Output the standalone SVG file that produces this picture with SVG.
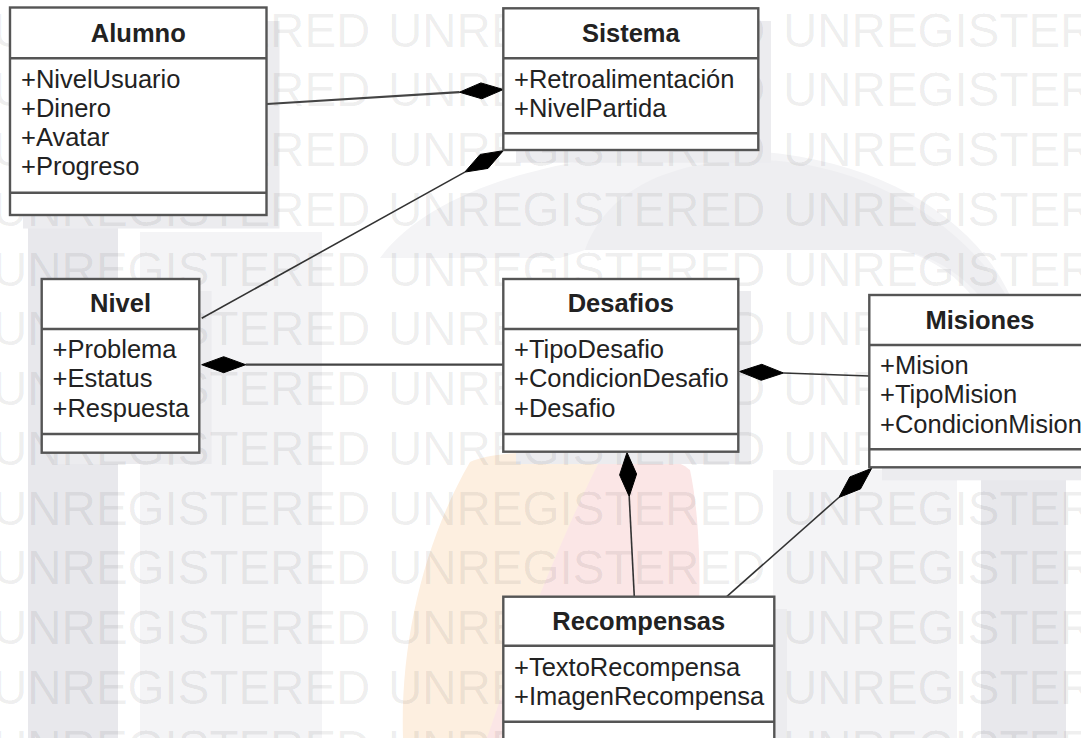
<svg xmlns="http://www.w3.org/2000/svg" xmlns:xlink="http://www.w3.org/1999/xlink" width="1081" height="738" viewBox="0 0 1081 738">
  <style>
    .wm { font-family: "Liberation Sans", Arial, sans-serif; font-size: 47.5px; fill: #000; fill-opacity: 0.07; }
    .bg-dark { fill: #e8e8ec; }
    .bg-arch { fill: #eeeef1; }
    .bg-light { fill: #f4f4f6; }
    .shadow { fill: #ececef; }
    .box { fill: #fff; stroke: #555; stroke-width: 2.4; }
    .sep { stroke: #555; stroke-width: 2.4; fill: none; }
    .title { font-family: "Liberation Sans", Arial, sans-serif; font-size: 25.5px; font-weight: bold; fill: #222; text-anchor: middle; }
    .attr { font-family: "Liberation Sans", Arial, sans-serif; font-size: 25.5px; fill: #222; }
    .link { stroke: #333; fill: none; stroke-width: 1.6; }
    .link.thick { stroke-width: 2.2; stroke: #444; }
    .diamond { fill: #000; stroke: #000; stroke-width: 1; stroke-linejoin: miter; }
  </style>
  <defs>
    <g id="wm-row">
      <text class="wm" x="-7" y="0">UNREGISTERED</text>
      <text class="wm" x="388" y="0">UNREGISTERED</text>
      <text class="wm" x="783" y="0">UNREGISTERED</text>
    </g>
  </defs>

  <rect width="1081" height="738" fill="#fff"/>

  <!-- faded emblem in the background -->
  <g id="emblem">
    <rect class="bg-dark" x="28" y="215" width="90" height="523"/>
    <rect class="bg-light" x="140" y="232" width="182" height="506"/>
    <path class="bg-light" d="M380,258 C430,190 560,150 720,150 C870,150 975,215 1012,300 L975,300 C955,272 925,256 900,250 L585,250 L560,258 Z"/>
    <path class="bg-arch" d="M585,250 C605,195 660,163 745,160 C850,157 955,212 1008,298 L1066,298 L1066,470 L981,470 L981,298 C960,272 930,255 900,250 Z"/>
    <rect class="bg-dark" x="981" y="466" width="85" height="272"/>
    <rect class="bg-light" x="773" y="470" width="184" height="268"/>
    <path fill="#fdefe0" d="M470,462 C495,450 580,448 600,460 C575,520 545,600 505,738 L403,738 C400,640 425,540 470,462 Z"/>
    <path fill="#fbe6e6" d="M600,460 C620,452 670,452 690,470 C705,540 700,650 690,738 L487,738 C520,640 560,540 600,460 Z"/>
  </g>

  <!-- box shadows -->
  <g id="shadows">
    <rect class="shadow" x="23" y="21" width="256.5" height="207.5"/>
    <rect class="shadow" x="516" y="21" width="255" height="141.7"/>
    <rect class="shadow" x="54" y="291" width="157.6" height="173"/>
    <rect class="shadow" x="516" y="291" width="235" height="173"/>
    <rect class="shadow" x="882" y="308" width="221.4" height="172.3"/>
    <rect class="shadow" x="516" y="609" width="271" height="150"/>
  </g>

  <!-- watermark rows -->
  <g id="watermark">
    <use xlink:href="#wm-row" y="46.5"/>
    <use xlink:href="#wm-row" y="106.25"/>
    <use xlink:href="#wm-row" y="166"/>
    <use xlink:href="#wm-row" y="225.75"/>
    <use xlink:href="#wm-row" y="285.5"/>
    <use xlink:href="#wm-row" y="345.25"/>
    <use xlink:href="#wm-row" y="405"/>
    <use xlink:href="#wm-row" y="464.75"/>
    <use xlink:href="#wm-row" y="524.5"/>
    <use xlink:href="#wm-row" y="584.25"/>
    <use xlink:href="#wm-row" y="644"/>
    <use xlink:href="#wm-row" y="703.75"/>
    <use xlink:href="#wm-row" y="763.5"/>
  </g>

  <!-- composition connectors (filled diamond at the whole end) -->
  <g id="connectors">
    <path class="link thick" d="M267,104 L459.4,92.2"/>
    <path class="diamond" d="M503.3,89.5 L481.8,98.8 L459.4,92.2 L480.9,82.9 Z"/>

    <path class="link" d="M201.7,318.3 L464.8,172.1"/>
    <path class="diamond" d="M503.3,150.7 L488,168.4 L464.8,172.1 L480.2,154.4 Z"/>

    <path class="link thick" d="M245.7,364.7 L503.3,364.7"/>
    <path class="diamond" d="M201.7,364.7 L223.7,372.7 L245.7,364.7 L223.7,356.7 Z"/>

    <path class="link" d="M783.5,373 L869.3,376"/>
    <path class="diamond" d="M739.5,371.5 L761.2,380.3 L783.5,373 L761.8,364.3 Z"/>

    <path class="link" d="M629.2,496.4 L634.3,596.7"/>
    <path class="diamond" d="M627,452.5 L636.6,474 L629.2,496.4 L619.6,474.9 Z"/>

    <path class="link" d="M838.8,497.5 L726.7,596.7"/>
    <path class="diamond" d="M871.7,468.3 L860.5,488.9 L838.8,497.5 L849.9,476.9 Z"/>
  </g>

  <g id="alumno">
    <rect class="box" x="10" y="7.5" width="256.5" height="207.5"/>
    <path class="sep" d="M10,58.3 H266.5 M10,192.7 H266.5"/>
    <text class="title" x="138.3" y="41.5">Alumno</text>
    <text class="attr" x="21" y="87.5">+NivelUsuario</text>
    <text class="attr" x="21" y="116.7">+Dinero</text>
    <text class="attr" x="21" y="145.9">+Avatar</text>
    <text class="attr" x="21" y="175.1">+Progreso</text>
  </g>

  <g id="sistema">
    <rect class="box" x="503.3" y="8.3" width="255" height="141.7"/>
    <path class="sep" d="M503.3,58.3 H758.3 M503.3,133.3 H758.3"/>
    <text class="title" x="630.8" y="41.8">Sistema</text>
    <text class="attr" x="514" y="87.5">+Retroalimentación</text>
    <text class="attr" x="514" y="116.7">+NivelPartida</text>
  </g>

  <g id="nivel">
    <rect class="box" x="41.7" y="279" width="157.6" height="173.7"/>
    <path class="sep" d="M41.7,329 H199.3 M41.7,434 H199.3"/>
    <text class="title" x="120.5" y="312">Nivel</text>
    <text class="attr" x="52.5" y="358.2">+Problema</text>
    <text class="attr" x="52.5" y="387.4">+Estatus</text>
    <text class="attr" x="52.5" y="416.6">+Respuesta</text>
  </g>

  <g id="desafios">
    <rect class="box" x="503.3" y="279" width="235" height="172.7"/>
    <path class="sep" d="M503.3,329 H738.3 M503.3,434 H738.3"/>
    <text class="title" x="620.8" y="312">Desafios</text>
    <text class="attr" x="514" y="358.2">+TipoDesafio</text>
    <text class="attr" x="514" y="387.4">+CondicionDesafio</text>
    <text class="attr" x="514" y="416.6">+Desafio</text>
  </g>

  <g id="misiones">
    <rect class="box" x="869.3" y="295" width="221.4" height="172.3"/>
    <path class="sep" d="M869.3,345 H1090.7 M869.3,449.3 H1090.7"/>
    <text class="title" x="980" y="328.5">Misiones</text>
    <text class="attr" x="880" y="374.2">+Mision</text>
    <text class="attr" x="880" y="403.4">+TipoMision</text>
    <text class="attr" x="880" y="432.6">+CondicionMision</text>
  </g>

  <g id="recompensas">
    <rect class="box" x="503.3" y="596.7" width="271" height="150"/>
    <path class="sep" d="M503.3,645.7 H774.3 M503.3,721.7 H774.3"/>
    <text class="title" x="638.8" y="630">Recompensas</text>
    <text class="attr" x="514" y="676">+TextoRecompensa</text>
    <text class="attr" x="514" y="705">+ImagenRecompensa</text>
  </g>
</svg>
